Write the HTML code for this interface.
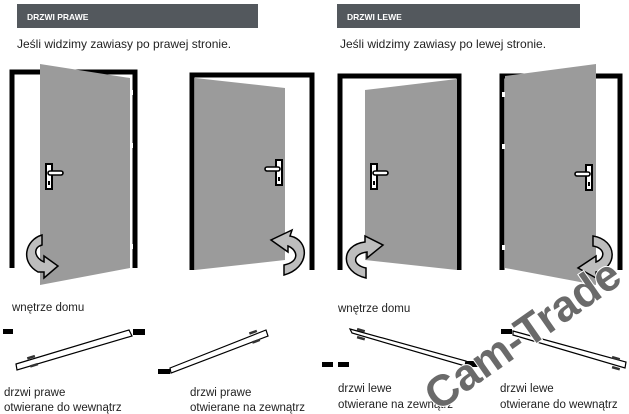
<!DOCTYPE html>
<html><head><meta charset="utf-8"><style>
html,body{margin:0;padding:0;background:#fff;}
svg{display:block;}
text{font-family:"Liberation Sans",sans-serif;}
</style></head><body>
<svg width="629" height="414" viewBox="0 0 629 414" xmlns="http://www.w3.org/2000/svg">
<defs>
<g id="handleR">
<rect x="0" y="0" width="6" height="25" fill="#fff" stroke="#000" stroke-width="2"/>
<rect x="2" y="17" width="2" height="4" fill="#000"/>
<rect x="2" y="7" width="15" height="4" rx="2" fill="#fff" stroke="#000" stroke-width="1.6"/>
</g>
<g id="handleL">
<rect x="11" y="0" width="6" height="25" fill="#fff" stroke="#000" stroke-width="2"/>
<rect x="13" y="17" width="2" height="4" fill="#000"/>
<rect x="0" y="7" width="15" height="4" rx="2" fill="#fff" stroke="#000" stroke-width="1.6"/>
</g>
</defs>

<rect x="17" y="4" width="241" height="24" fill="#53585d"/>
<text x="27" y="20" font-size="8.5" font-weight="bold" fill="#fff">DRZWI PRAWE</text>
<rect x="337" y="4" width="243" height="24" fill="#53585d"/>
<text x="347" y="20" font-size="8.5" font-weight="bold" fill="#fff">DRZWI LEWE</text>
<text x="17" y="48" font-size="12" fill="#222">Jeśli widzimy zawiasy po prawej stronie.</text>
<text x="340" y="48" font-size="12" fill="#222">Jeśli widzimy zawiasy po lewej stronie.</text>

<path d="M12 268 V72 H135 V268" fill="none" stroke="#000" stroke-width="5"/>
<polygon points="40,64 130,78 130,268 40,285" fill="#9b9b9b"/>
<rect x="130" y="90" width="3" height="5" fill="#fff"/><rect x="130" y="143" width="3" height="5" fill="#fff"/><rect x="130" y="244" width="3" height="5" fill="#fff"/>
<use href="#handleR" x="46" y="164"/>
<path d="M42 235 C25 240 20 262 38 272 L44 272 L44 278 L58 266 L44 256 L44 262 C35 258 32 248 42 245 Z" fill="#bdbdbd" stroke="#000" stroke-width="1.5"/>

<path d="M192 270 V75 H312 V270" fill="none" stroke="#000" stroke-width="5"/>
<polygon points="195,78 285,88 285,260 195,270" fill="#9b9b9b"/>
<use href="#handleL" x="265" y="160"/>
<path d="M284 275 C310 268 310 240 290 236 L292 230 L271 240 L288 252 L288 246 C298 250 300 262 284 265 Z" fill="#bdbdbd" stroke="#000" stroke-width="1.5"/>

<path d="M340 270 V76 H459 V270" fill="none" stroke="#000" stroke-width="5"/>
<polygon points="365,90 457,79 457,270 365,260" fill="#9b9b9b"/>
<use href="#handleR" x="371" y="164"/>
<path d="M366 278 C340 272 340 245 365 242 L365 236 L383 245 L367 258 L367 252 C352 254 352 265 366 268 Z" fill="#bdbdbd" stroke="#000" stroke-width="1.5"/>

<path d="M502 270 V76 H620 V270" fill="none" stroke="#000" stroke-width="5"/>
<polygon points="505,76 596,64 596,285 505,268" fill="#9b9b9b"/>
<rect x="502" y="92" width="3" height="5" fill="#fff"/><rect x="502" y="144" width="3" height="5" fill="#fff"/><rect x="502" y="245" width="3" height="5" fill="#fff"/>
<use href="#handleL" x="575" y="165"/>
<path d="M593 236 C618 240 618 268 596 272 L596 278 L578 268 L596 256 L596 262 C606 258 605 248 593 246 Z" fill="#bdbdbd" stroke="#000" stroke-width="1.5"/>

<text x="12" y="311" font-size="11.5" fill="#222">wnętrze domu</text>
<text x="338" y="312" font-size="11.5" fill="#222">wnętrze domu</text>

<rect x="3" y="329" width="10" height="5" fill="#000"/>
<rect x="133" y="329" width="12" height="6" fill="#000"/>
<polygon points="16,364 129,330 132,336 17,370" fill="#fff" stroke="#000" stroke-width="1.2"/>
<rect x="27" y="356" width="8" height="2.5" fill="#333" transform="rotate(-17 31 357)"/>
<rect x="30" y="364" width="8" height="2.5" fill="#333" transform="rotate(-17 34 365)"/>
<rect x="158" y="369" width="12" height="5" fill="#000"/>
<polygon points="170,368 266,330 268,336 171,373" fill="#fff" stroke="#000" stroke-width="1.2"/>
<rect x="249" y="331" width="8" height="2.5" fill="#333" transform="rotate(-20 253 332)"/>
<rect x="252" y="340" width="8" height="2.5" fill="#333" transform="rotate(-20 256 341)"/>
<rect x="322" y="362" width="11" height="5" fill="#000"/>
<rect x="338" y="362" width="11" height="5" fill="#000"/>
<polygon points="350,329 466,361 465,366 352,333" fill="#fff" stroke="#000" stroke-width="1.2"/>
<rect x="466" y="361" width="12" height="6" fill="#000"/>
<rect x="357" y="329" width="8" height="2.5" fill="#333" transform="rotate(16 361 330)"/>
<rect x="357" y="337" width="8" height="2.5" fill="#333" transform="rotate(16 361 338)"/>
<rect x="501" y="329" width="11" height="5" fill="#000"/>
<polygon points="513,331 626,362 625,368 513,335" fill="#fff" stroke="#000" stroke-width="1.2"/>
<rect x="612" y="357" width="8" height="2.5" fill="#333" transform="rotate(16 616 358)"/>
<rect x="612" y="367" width="8" height="2.5" fill="#333" transform="rotate(16 616 368)"/>

<text x="4" y="396" font-size="11.5" fill="#222">drzwi prawe</text>
<text x="4" y="411" font-size="11.5" fill="#222">otwierane do wewnątrz</text>
<text x="190" y="396" font-size="11.5" fill="#222">drzwi prawe</text>
<text x="190" y="411" font-size="11.5" fill="#222">otwierane na zewnątrz</text>
<text x="338" y="392" font-size="11.5" fill="#222">drzwi lewe</text>
<text x="338" y="408" font-size="11.5" fill="#222">otwierane na zewnątrz</text>
<text x="500" y="392" font-size="11.5" fill="#222">drzwi lewe</text>
<text x="500" y="408" font-size="11.5" fill="#222">otwierane do wewnątrz</text>

<text x="0" y="0" font-size="44" font-weight="bold" fill="#6a6a6a" stroke="#fff" stroke-width="2" paint-order="stroke" transform="translate(438 412) rotate(-35)">Cam-Trade</text>
</svg>
</body></html>
